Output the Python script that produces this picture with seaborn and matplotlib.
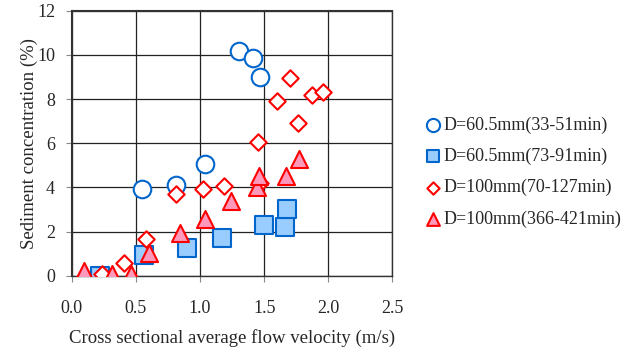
import pandas as pd
import matplotlib
matplotlib.use("Agg")
import matplotlib.pyplot as plt
import seaborn as sns

# series
circ_x = [0.55, 0.81, 1.04, 1.30, 1.41, 1.47]
circ_y = [3.94, 4.12, 5.07, 10.19, 9.85, 9.00]

sq_x = [0.22, 0.565, 0.90, 1.17, 1.495, 1.66, 1.675]
sq_y = [0.0, 0.94, 1.25, 1.72, 2.31, 2.23, 3.02]

dia_x = [0.235, 0.41, 0.58, 0.81, 1.025, 1.185, 1.455, 1.47, 1.60, 1.70, 1.765, 1.875, 1.96]
dia_y = [0.09, 0.57, 1.66, 3.71, 3.92, 4.09, 6.05, 4.2, 7.93, 8.97, 6.91, 8.19, 8.33]

tri_x = [0.095, 0.315, 0.46, 0.60, 0.845, 1.035, 1.24, 1.445, 1.46, 1.67, 1.77]
tri_y = [0.20, 0.08, 0.08, 1.03, 1.93, 2.58, 3.39, 4.01, 4.52, 4.54, 5.29]

xticks = [0, 0.5, 1.0, 1.5, 2.0, 2.5]
xtick_labels = ["0.0", "0.5", "1.0", "1.5", "2.0", "2.5"]
yticks = [0, 2, 4, 6, 8, 10, 12]

labels = ["D=60.5mm(33-51min)", "D=60.5mm(73-91min)",
          "D=100mm(70-127min)", "D=100mm(366-421min)"]

sns.set_style("white")
plt.rcParams['font.family'] = ['Liberation Serif', 'DejaVu Serif']

fig = plt.figure(figsize=(6.35, 3.56), dpi=100)
ax = fig.add_axes([0.113, 0.225, 0.505, 0.745])

sns.scatterplot(x=sq_x, y=sq_y, marker="s", s=150, color="#99CCFF",
                edgecolor="#0066CC", linewidth=1.5, label=labels[1], ax=ax, zorder=3)
sns.scatterplot(x=circ_x, y=circ_y, marker="o", s=160, facecolor="white",
                edgecolor="#0066CC", linewidth=1.5, label=labels[0], ax=ax, zorder=3)
sns.scatterplot(x=dia_x, y=dia_y, marker="D", s=70, facecolor="white",
                edgecolor="#FF0000", linewidth=1.5, label=labels[2], ax=ax, zorder=4)
sns.scatterplot(x=tri_x, y=tri_y, marker="^", s=150, color="#FF99BB",
                edgecolor="#FF0000", linewidth=1.5, label=labels[3], ax=ax, zorder=5)

ax.set_xlim(0, 2.5)
ax.set_ylim(0, 12)
ax.set_xticks(xticks)
ax.set_xticklabels(xtick_labels)
ax.set_yticks(yticks)
ax.grid(True, color="#222222", linewidth=0.9)
ax.set_axisbelow(True)
for side, sp in ax.spines.items():
    sp.set_color("#333333")
    sp.set_linewidth(1.5 if side in ("top", "left") else 1.0)
ax.tick_params(axis="both", labelsize=13, length=4, direction="out",
               left=True, bottom=True, color="#888888")
ax.tick_params(axis="x", pad=13)
ax.tick_params(axis="y", pad=8)
ax.set_xlabel("Cross sectional average flow velocity (m/s)", fontsize=13.5, labelpad=9)
ax.set_ylabel("Sediment concentration (%)", fontsize=13.5, labelpad=-1)

h, l = ax.get_legend_handles_labels()
ax.get_legend().remove()
order = [l.index(t) for t in labels]
fig.legend([h[i] for i in order], [l[i] for i in order],
           loc="center left", bbox_to_anchor=(0.670, 0.517), frameon=False,
           fontsize=13, handlelength=0.8, handletextpad=0.2, labelspacing=0.78,
           markerscale=0.75, borderpad=0, borderaxespad=0)

plt.savefig("out.png", dpi=100)
